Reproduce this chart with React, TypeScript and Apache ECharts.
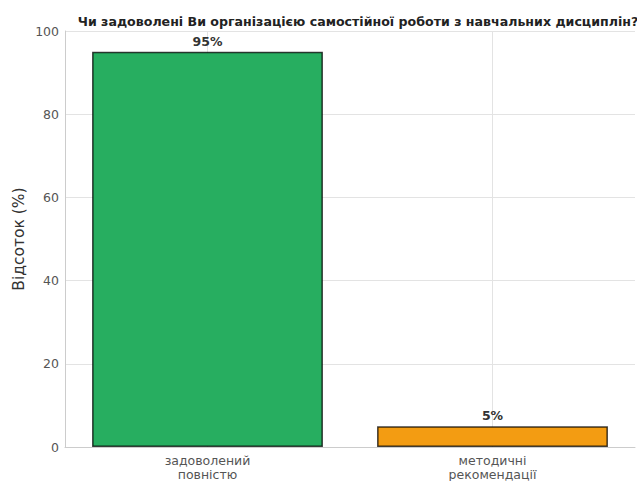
import React, { useEffect, useRef } from "react";
import * as echarts from "echarts";

const titleText = "Чи задоволені Ви організацією самостійної роботи з навчальних дисциплін?";
const categories = ["задоволений\nповністю", "методичні\nрекомендації"];
const values = [95, 5];
const barColors = ["#27ae60", "#f39c12"];
const yAxisName = "Відсоток (%)";

export default function App() {
  const ref = useRef<HTMLDivElement>(null);
  useEffect(() => {
    if (!ref.current) return;
    const chart = echarts.init(ref.current, undefined, { renderer: "svg" });
    const font = "DejaVu Sans, sans-serif";
    chart.setOption({
      animation: false,
      textStyle: { fontFamily: font },
      grid: { left: 65, right: 2, top: 31, bottom: 33 },
      title: {
        text: titleText,
        left: 353,
        top: 10,
        textAlign: "center",
        textStyle: { color: "#222", fontSize: 12.6, fontWeight: "bold", fontFamily: font },
      },
      xAxis: {
        type: "category",
        data: categories,
        axisLine: { show: true, lineStyle: { color: "#cccccc" } },
        axisTick: { show: false },
        splitLine: { show: false },
        axisLabel: { color: "#555", fontSize: 12.5, lineHeight: 14, margin: 6, fontFamily: font },
      },
      yAxis: {
        type: "value",
        min: 0,
        max: 100,
        interval: 20,
        name: yAxisName,
        nameLocation: "middle",
        nameGap: 38,
        nameMoveOverlap: false,
        nameTextStyle: { color: "#333", fontSize: 15.5, fontFamily: font },
        axisLine: { show: true, lineStyle: { color: "#cccccc" } },
        axisTick: { show: false },
        axisLabel: { color: "#555", fontSize: 12.5, margin: 6, fontFamily: font },
        splitLine: { show: true, lineStyle: { color: "#e3e3e3", width: 1 } },
      },
      series: [
        {
          type: "line",
          data: [],
          silent: true,
          z: 0,
          markLine: {
            silent: true,
            symbol: "none",
            z: 0,
            label: { show: false },
            lineStyle: { color: "#e3e3e3", width: 1, type: "solid" },
            data: [{ xAxis: 0 }, { xAxis: 1 }],
          },
        },
        {
          type: "bar",
          z: 2,
          barWidth: "81%",
          data: values.map((v, i) => ({
            value: v,
            itemStyle: { color: barColors[i], borderColor: "rgba(0,0,0,0.75)", borderWidth: 1.5 },
          })),
          label: {
            show: true,
            position: "top",
            distance: 4,
            formatter: (p: any) => `${p.value}%`,
            color: "#333",
            fontWeight: "bold",
            fontSize: 12.5,
            fontFamily: font,
          },
        },
      ],
    });
    return () => chart.dispose();
  }, []);
  return (
    <div
      ref={ref}
      style={{ position: "fixed", left: 0, top: 0, width: 637, height: 481, background: "#fff" }}
    />
  );
}
